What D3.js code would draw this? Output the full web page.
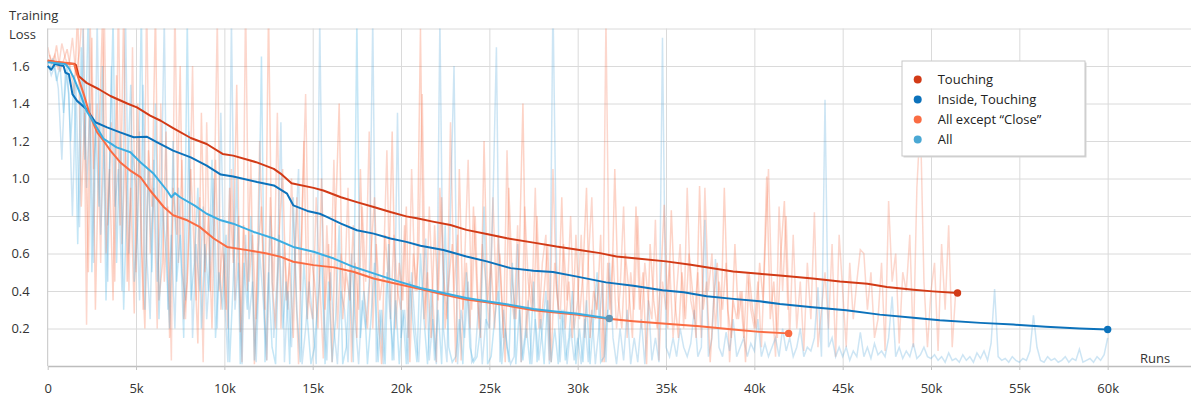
<!DOCTYPE html>
<html>
<head>
<meta charset="utf-8">
<script src="https://cdn.jsdelivr.net/npm/d3@7"></script>
<style>
    body { margin: 0; background: #fff; }
    svg { display: block; font-family: "Open Sans", sans-serif; }
</style>
</head>
<body>
<svg id="chart"></svg>
<script>

// smoothed curves, runs in thousands
const touchingRuns = [0,0.5,1.0,1.5,1.6,1.75,2.2,2.9,3.55,4.5,5.05,5.8,6.4,7.1,8.1,9.0,9.9,10.5,11.8,12.8,13.2,13.8,15.05,15.6,16.6,17.5,18.45,19.4,20.3,20.9,21.8,22.8,23.7,24.85,26.0,27.5,28.8,30.1,31.26,32.2,33.5,35.0,36.4,37.9,38.8,40.3,41.6,43.3,44.85,46.4,47.5,49.0,50.1,51.5];
const touchingLoss = [1.63,1.62,1.615,1.612,1.605,1.547,1.51,1.476,1.44,1.40,1.379,1.335,1.308,1.269,1.216,1.184,1.131,1.122,1.087,1.051,1.025,0.975,0.950,0.936,0.90,0.874,0.848,0.821,0.798,0.788,0.770,0.752,0.726,0.704,0.681,0.658,0.637,0.619,0.602,0.584,0.572,0.558,0.540,0.517,0.504,0.492,0.481,0.467,0.451,0.439,0.421,0.407,0.398,0.389];

const insideRuns = [0,0.2,0.4,0.9,1.0,1.2,1.4,1.66,2.2,2.7,3.36,4.1,4.87,5.6,6.2,7.1,8.1,9.0,9.8,10.5,11.85,12.8,13.55,13.9,14.7,15.4,15.8,16.6,17.5,18.45,19.4,20.3,21.1,22.4,23.7,24.85,26.2,27.5,28.6,29.9,31.6,33.15,34.8,36.0,37.3,38.8,40.3,41.45,43.3,45.2,47.1,49.0,50.5,52.8,54.66,56.5,58.4,60.0];
const insideLoss = [1.60,1.58,1.61,1.60,1.565,1.556,1.45,1.414,1.37,1.30,1.273,1.246,1.22,1.223,1.193,1.149,1.113,1.069,1.021,1.011,0.981,0.963,0.919,0.857,0.827,0.812,0.795,0.759,0.724,0.706,0.680,0.662,0.641,0.619,0.584,0.558,0.522,0.508,0.501,0.478,0.446,0.428,0.404,0.393,0.372,0.358,0.345,0.331,0.313,0.297,0.274,0.257,0.244,0.230,0.221,0.209,0.200,0.195];

const exceptRuns = [0,1.0,1.5,1.66,2.04,2.4,2.8,3.17,3.55,4.1,4.68,5.25,5.8,6.57,7.1,7.9,8.6,9.4,10.15,11.3,12.4,13.2,13.9,15.05,16.2,17.3,18.45,19.6,21.1,22.4,23.7,24.85,26.2,27.5,28.6,29.9,31.6,33.15,35.0,36.9,38.8,40.3,41.94];
const exceptLoss = [1.627,1.617,1.61,1.556,1.45,1.335,1.246,1.20,1.149,1.087,1.042,1.007,0.936,0.848,0.804,0.777,0.742,0.680,0.635,0.618,0.600,0.582,0.556,0.538,0.526,0.503,0.467,0.441,0.410,0.381,0.354,0.340,0.319,0.297,0.287,0.274,0.253,0.239,0.225,0.212,0.195,0.182,0.174];

const allRuns = [0,1.0,1.19,1.47,1.85,2.2,2.6,3.17,3.9,4.68,5.25,6.0,6.75,7.0,7.2,7.5,8.3,9.0,9.8,10.5,11.66,12.8,13.9,15.05,16.2,17.3,18.45,19.6,21.1,22.4,23.7,24.85,26.2,27.5,28.6,29.9,31.79];
const allLoss = [1.62,1.61,1.59,1.538,1.45,1.36,1.30,1.211,1.166,1.14,1.087,1.025,0.936,0.90,0.922,0.90,0.857,0.812,0.777,0.759,0.715,0.680,0.635,0.609,0.573,0.529,0.494,0.458,0.416,0.389,0.363,0.345,0.326,0.304,0.292,0.280,0.253];

// raw (unsmoothed) loss, one value every 200 runs, one row per 5k
const rawStep = 0.2;
const rawStart = [0, 0, 0.1, 0.1];

const rawTouching = [
    1.70,1.62,1.66,1.58,1.72,1.64,1.60,1.75,1.55,1.68,1.95,0.22,1.85,1.05,1.40,0.55,1.90,0.75,1.30,0.45,1.95,0.65,1.15,0.40,1.70,
    0.50,1.25,0.30,1.95,0.60,0.95,0.20,1.40,0.45,0.85,0.03,1.95,0.55,1.10,0.25,0.70,1.60,0.35,0.90,0.02,1.30,0.40,0.75,1.85,0.30,
    0.60,0.20,1.05,0.35,0.80,0.02,1.95,0.45,0.70,0.25,1.20,0.50,0.03,0.90,0.40,1.35,0.20,0.65,0.30,1.00,0.55,0.01,0.80,1.45,0.35,
    0.25,0.90,0.45,0.04,0.75,0.35,1.10,0.20,0.60,0.40,0.95,0.02,0.55,0.30,0.85,0.45,1.25,0.20,0.65,0.35,0.50,1.15,0.25,0.70,0.40,
    0.30,0.75,0.15,1.05,0.40,0.60,1.45,0.20,0.85,0.35,0.02,0.95,0.50,0.25,1.30,0.40,0.70,0.03,0.55,1.10,0.30,0.80,0.20,0.65,0.45,
    0.20,0.90,0.35,0.60,0.15,1.15,0.40,0.25,0.75,0.02,0.85,0.45,0.30,0.95,0.20,0.55,0.70,0.03,1.05,0.40,0.25,0.65,0.35,0.80,0.20,
    0.35,0.70,0.15,0.55,0.90,0.25,0.45,0.02,1.85,0.30,0.60,0.20,0.40,0.85,0.15,0.50,0.30,0.80,0.20,0.55,0.35,0.25,0.78,0.03,0.45,
    0.30,0.55,0.15,0.40,0.65,0.20,0.95,0.35,0.25,0.50,0.15,0.95,0.40,0.60,0.20,0.45,0.30,0.55,0.02,0.35,0.25,0.40,0.15,0.50,0.30,
    0.20,0.45,0.10,0.60,1.05,0.35,0.05,0.85,0.40,0.80,0.15,0.70,0.20,0.45,0.08,0.55,0.25,0.82,0.10,0.30,0.50,0.20,0.65,0.05,0.70,
    0.40,0.10,0.55,0.25,0.45,0.62,0.60,0.30,0.50,0.15,0.25,0.55,0.08,0.88,0.45,0.60,0.12,0.50,0.40,0.70,0.10,0.95,1.32,0.45,0.10,
    0.40,0.55,0.08,0.65,0.30,0.75,0.10,0.40
];

const rawInside = [
    1.62,1.55,1.60,1.48,1.10,1.58,1.45,0.80,1.50,0.74,1.80,0.95,1.40,0.55,1.85,0.70,1.20,0.45,1.60,0.85,1.05,0.40,1.90,0.60,1.15,
    0.95,0.35,1.50,0.60,0.25,1.10,0.45,0.80,1.85,0.30,0.70,0.20,0.95,0.50,0.35,1.25,0.15,0.65,0.40,0.85,0.25,0.55,1.00,0.20,1.35,
    0.40,0.02,1.85,0.30,0.55,0.01,0.70,0.25,0.45,0.02,0.60,0.35,0.03,0.80,0.15,0.50,1.30,0.02,0.40,0.10,0.65,1.05,0.01,0.20,0.45,
    0.25,0.01,1.85,0.35,0.03,0.50,0.20,0.01,0.40,0.30,0.02,0.60,0.25,0.01,0.35,0.20,0.45,1.85,0.02,0.30,0.01,0.50,0.25,0.03,1.35,
    0.15,0.30,0.01,0.50,0.20,0.02,0.40,0.68,0.03,0.25,0.01,1.85,0.20,0.02,0.85,1.60,0.01,0.30,0.15,0.45,0.02,0.05,0.35,0.01,0.25,
    0.20,0.85,1.70,0.02,0.30,0.10,0.01,0.05,0.65,0.02,0.15,0.35,0.01,0.25,0.03,0.20,0.40,0.01,1.95,0.55,0.02,0.30,0.01,0.20,0.03,
    0.15,0.01,0.25,0.02,0.30,0.01,0.20,0.45,0.02,0.55,0.15,0.01,0.20,0.03,0.30,0.01,0.15,0.02,0.25,0.01,0.35,0.03,0.15,0.02,1.75,
    0.10,0.05,0.15,0.05,0.20,0.10,0.05,0.12,0.30,0.05,0.10,0.78,0.05,0.15,0.57,0.10,0.05,0.18,0.08,0.25,0.05,0.10,0.15,0.05,0.12,
    0.08,0.25,0.05,0.12,0.05,0.10,0.15,0.05,0.20,0.08,0.15,0.05,0.10,0.20,0.05,0.10,0.08,0.15,0.42,0.05,1.42,0.10,0.15,0.05,0.10,
    0.05,0.10,0.03,0.08,0.05,0.18,0.05,0.10,0.04,0.12,0.06,0.08,0.05,0.15,0.37,0.05,0.10,0.04,0.08,0.05,0.12,0.04,0.06,0.10,0.05,
    0.04,0.06,0.03,0.05,0.02,0.07,0.03,0.04,0.02,0.06,0.03,0.05,0.02,0.07,0.04,0.08,0.03,0.12,0.41,0.05,0.03,0.04,0.02,0.05,0.03,
    0.02,0.04,0.03,0.08,0.27,0.10,0.03,0.02,0.05,0.03,0.04,0.02,0.03,0.05,0.02,0.04,0.03,0.09,0.02,0.03,0.04,0.02,0.05,0.03,0.06,
    0.15
];

const rawExcept = [
    1.66,1.60,1.71,1.57,1.63,1.69,1.58,1.45,1.90,0.85,1.35,0.50,1.75,0.30,1.20,1.85,0.60,1.05,0.35,1.55,0.75,1.90,0.45,0.95,0.28,
    1.40,0.65,0.20,1.15,0.85,1.90,0.35,0.55,1.25,0.15,0.95,0.70,1.60,0.25,0.45,1.05,0.60,0.12,1.35,0.50,0.80,0.20,1.10,0.40,0.65,
    0.30,0.95,0.55,1.50,0.18,0.75,0.40,1.10,0.01,0.60,0.85,0.30,1.90,0.45,0.20,0.70,1.05,0.35,0.55,0.15,0.90,0.40,1.20,0.25,0.60,
    0.45,0.20,1.00,0.30,0.65,0.02,0.80,1.40,0.25,0.50,0.35,0.75,0.15,1.05,0.40,0.20,0.60,0.90,0.30,0.01,0.70,0.45,1.25,0.20,0.55,
    0.35,0.85,0.02,0.60,0.40,1.80,0.25,0.50,0.15,0.75,0.35,0.90,0.20,0.45,0.65,0.02,1.05,0.30,0.55,0.20,0.85,0.40,0.15,1.20,0.35,
    0.55,0.20,0.70,0.35,0.02,0.95,0.45,0.25,0.60,1.40,0.15,0.50,0.30,0.80,0.20,0.40,0.65,0.02,0.55,0.30,0.90,0.20,0.45,0.15,0.70,
    0.25,0.50,0.95,0.15,0.40,0.30,0.70,0.02,0.55,0.25,1.05,0.35,0.20,0.60,0.40,0.15,0.85,0.30,0.50,0.01,0.65,0.35,0.20,0.45,0.86,
    0.20,0.83,0.35,0.15,0.50,0.25,0.60,0.40,0.15,0.96,0.30,0.45,0.02,0.35,0.55,0.20,0.95,0.30,0.15,0.65,0.25,0.40,0.02,0.50,0.30,
    0.20,0.55,0.35,1.01,0.25,0.45,0.15,0.60,0.88,0.30
];

const rawAll = [
    1.58,1.64,1.52,1.60,1.35,1.62,1.20,1.55,0.65,1.70,1.10,1.90,0.50,1.30,0.85,1.60,0.35,1.05,1.85,0.55,1.25,0.30,0.95,1.50,0.45,
    0.75,1.90,0.30,1.05,0.50,1.40,0.25,0.85,0.60,0.20,1.20,0.45,0.70,0.15,1.85,0.35,0.55,0.95,0.20,0.65,0.40,1.10,0.15,0.50,0.30,
    0.70,0.02,0.45,1.00,0.01,0.55,0.30,0.80,0.03,0.40,1.65,0.02,0.50,0.10,0.01,0.70,0.20,0.45,0.01,0.90,0.30,0.02,0.55,0.25,0.01,
    0.10,0.35,0.60,0.01,0.45,0.02,0.25,0.75,0.01,0.10,0.50,0.02,1.85,0.15,0.40,0.01,0.25,0.55,0.02,0.30,0.01,0.65,0.03,0.35,0.01,
    0.30,0.01,0.45,0.20,0.02,0.60,0.25,0.01,0.40,0.03,0.30,0.01,0.75,0.10,0.02,0.05,0.25,0.01,0.50,0.10,0.02,0.05,0.20,0.85,0.01,
    0.05,0.25,0.40,0.01,0.20,0.02,0.55,0.01,0.30,0.03,0.20,0.01,0.45,0.02,0.25,0.01,0.35,0.02,0.20,0.01,0.30,0.03,0.15,0.40,0.01,
    0.20,0.02,0.35,0.01,0.25,0.50,0.02,0.05,0.30
];

const xTicks = [0,5,10,15,20,25,30,35,40,45,50,55,60];
const xGrid = [5,10,15,20,25,30,35,40,45,50,55,60,65];
const yTicks = [0.2,0.4,0.6,0.8,1.0,1.2,1.4,1.6];
const yGrid = [0.2,0.4,0.6,0.8,1.0,1.2,1.4,1.6,1.8];

const seriesNames = ['Touching', 'Inside, Touching', 'All except \u201cClose\u201d', 'All'];
const seriesColors = ['#d23a16', '#0c72bb', '#fa6c43', '#3badE2'];
const rawColors = ['#f47a5a', '#5aa9dc', '#fa6c43', '#3badE2'];
const dotColors = ['#d23a16', '#0c72bb', '#fa6c43', '#6496b5'];

const width = 1191;
const height = 400;

const xScale = d3.scaleLinear()
    .domain([0, 65])
    .range([47.7, 1196]);

const yScale = d3.scaleLinear()
    .domain([0, 1.8])
    .range([366, 28.5]);

const svg = d3.select('#chart')
    .attr('width', width)
    .attr('height', height)
    .attr('viewBox', [0, 0, width, height]);

svg.append('defs').append('clipPath')
    .attr('id', 'plot-clip')
    .append('rect')
    .attr('x', xScale(0))
    .attr('y', yScale(1.8))
    .attr('width', width - xScale(0))
    .attr('height', yScale(0) - yScale(1.8));

// grid
svg.append('g')
    .attr('transform', `translate(${xScale(0)},0)`)
    .call(d3.axisLeft(yScale).tickValues(yGrid).tickSize(-(width - xScale(0))).tickFormat(''))
    .call(g => g.select('.domain').remove())
    .call(g => g.selectAll('.tick line').attr('stroke', '#dadada'));

svg.append('g')
    .attr('transform', `translate(0,${yScale(0)})`)
    .call(d3.axisBottom(xScale).tickValues(xGrid).tickSize(-(yScale(0) - yScale(1.8))).tickFormat(''))
    .call(g => g.select('.domain').remove())
    .call(g => g.selectAll('.tick line').attr('stroke', '#dadada'));

// raw noise
const raws = [rawTouching, rawInside, rawExcept, rawAll];

svg.append('g')
    .attr('clip-path', 'url(#plot-clip)')
    .selectAll('path')
    .data(raws)
    .join('path')
    .attr('d', (values, k) => d3.line()
        .x((d, i) => xScale(rawStart[k] + i * rawStep))
        .y(d => yScale(d))(values))
    .attr('fill', 'none')
    .attr('stroke', (d, k) => rawColors[k])
    .attr('stroke-opacity', 0.3)
    .attr('stroke-width', 1.5);

// axes
svg.append('line')
    .attr('x1', xScale(0)).attr('x2', xScale(0))
    .attr('y1', yScale(1.8)).attr('y2', yScale(0))
    .attr('stroke', '#c4c4c4');

svg.append('g')
    .attr('transform', `translate(0,${yScale(0)})`)
    .call(d3.axisBottom(xScale).tickValues(xTicks).tickSizeInner(4).tickSizeOuter(0).tickPadding(14)
        .tickFormat(d => d === 0 ? '0' : d + 'k'))
    .call(g => g.select('.domain').attr('stroke', '#bdbdbd').attr('stroke-width', 1.5))
    .call(g => g.selectAll('.tick line').attr('stroke', '#c4c4c4'))
    .call(g => g.selectAll('.tick text').attr('fill', '#333').attr('font-size', 13)
        .attr('font-family', '"Open Sans", sans-serif'));

svg.append('g')
    .attr('transform', `translate(${xScale(0)},0)`)
    .call(d3.axisLeft(yScale).tickValues(yTicks).tickSize(0).tickPadding(18).tickFormat(d3.format('.1f')))
    .call(g => g.select('.domain').remove())
    .call(g => g.selectAll('.tick text').attr('fill', '#333').attr('font-size', 13)
        .attr('font-family', '"Open Sans", sans-serif'));

svg.append('text').attr('x', 9).attr('y', 19.5).attr('font-size', 13).attr('fill', '#333').text('Training');
svg.append('text').attr('x', 9).attr('y', 38.5).attr('font-size', 13).attr('fill', '#333').text('Loss');
svg.append('text').attr('x', 1140).attr('y', 363).attr('font-size', 13).attr('fill', '#333').text('Runs');

// smoothed curves
const curves = [
    {runs: touchingRuns, loss: touchingLoss},
    {runs: insideRuns, loss: insideLoss},
    {runs: exceptRuns, loss: exceptLoss},
    {runs: allRuns, loss: allLoss}
];

const line = d3.line()
    .x(d => xScale(d[0]))
    .y(d => yScale(d[1]));

svg.append('g').selectAll('path')
    .data(curves)
    .join('path')
    .attr('d', c => line(d3.zip(c.runs, c.loss)))
    .attr('fill', 'none')
    .attr('stroke', (c, i) => seriesColors[i])
    .attr('stroke-width', 2)
    .attr('stroke-linejoin', 'round');

svg.append('g').selectAll('circle')
    .data(curves)
    .join('circle')
    .attr('cx', c => xScale(c.runs[c.runs.length - 1]))
    .attr('cy', c => yScale(c.loss[c.loss.length - 1]))
    .attr('r', 3.7)
    .attr('fill', (c, i) => dotColors[i]);

// legend
const legend = svg.append('g').attr('transform', 'translate(902,61)');

legend.append('rect')
    .attr('x', 1.5).attr('y', 1.5)
    .attr('width', 183).attr('height', 95)
    .attr('fill', '#d6d6d6');

legend.append('rect')
    .attr('width', 183).attr('height', 95)
    .attr('fill', '#fff')
    .attr('stroke', '#c8c8c8');

const items = legend.selectAll('.legend-item')
    .data(seriesNames)
    .join('g')
    .attr('class', 'legend-item')
    .attr('transform', (d, i) => `translate(0,${18.5 + i * 20})`);

items.append('circle')
    .attr('cx', 15.7)
    .attr('r', 4)
    .attr('fill', (d, i) => i === 3 ? '#4aa8d4' : seriesColors[i]);

items.append('text')
    .attr('x', 35.7)
    .attr('dy', '0.35em')
    .attr('font-size', 13)
    .attr('fill', '#222')
    .text(d => d);

</script>
</body>
</html>
